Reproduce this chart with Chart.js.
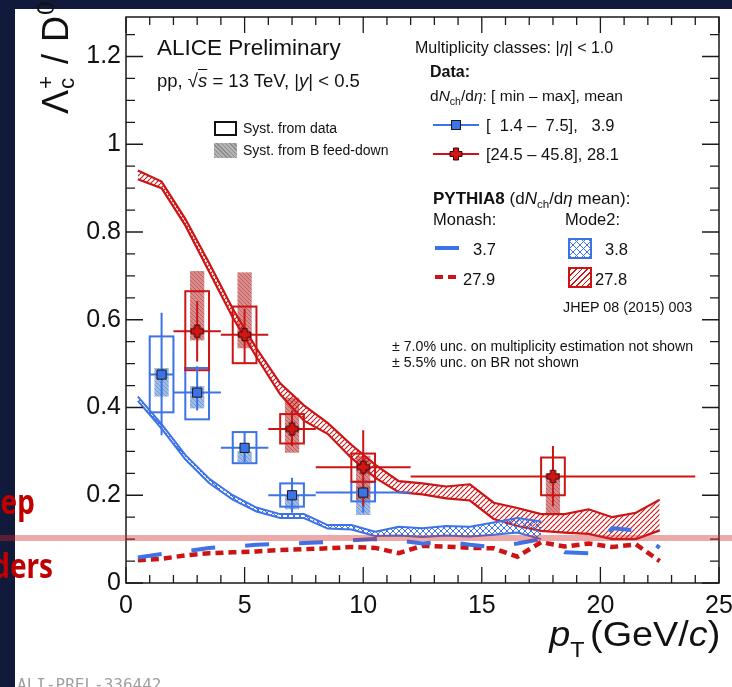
<!DOCTYPE html>
<html lang="en">
<head>
<meta charset="UTF-8">
<title>Lambda_c / D0 vs pT in multiplicity classes</title>
<script src="https://cdn.jsdelivr.net/npm/chart.js"></script>
<style>
    body {
        margin: 0;
        width: 732px;
        height: 687px;
        position: relative;
        overflow: hidden;
        background: #111a3a;
        font-family: "Liberation Sans", Arial, sans-serif;
    }
    .panel {
        position: absolute;
        left: 15px; top: 9px;
        width: 717px; height: 678px;
        background: #fff;
    }
    .panel canvas { display: block; }
    .t {
        position: absolute;
        white-space: pre;
        line-height: 1;
        color: #111;
    }
    .t sub, .t sup { font-size: 0.68em; line-height: 0; }
    .t sub { vertical-align: -0.35em; }
    .t sup { vertical-align: 0.55em; }
    .sw { position: absolute; box-sizing: border-box; }
    .ss { display: inline-block; font-size: 0.62em; line-height: 0.95; vertical-align: -0.3em; }
    .ss span { display: block; }
    .slide { position: absolute; white-space: pre; line-height: 1; font-size: 34px; font-weight: bold;
             color: #c00000; font-family: "Noto Sans", sans-serif; transform: scaleX(0.82); transform-origin: 100% 0; }
</style>
</head>
<body>

<div class="panel"><canvas id="chart"></canvas></div>

<!-- axis titles -->
<div class="t" style="left:35px; top:114px; font-size:36px; letter-spacing:1px; transform:rotate(-90deg); transform-origin:0 0;">Λ<span class="ss"><span>+</span><span>c</span></span> / D<sup>0</sup></div>
<div class="t" style="right:12px; top:616px; font-size:35px; transform:scaleX(1.08); transform-origin:100% 0;"><i>p</i><sub style="vertical-align:-0.5em; font-size:0.62em">T</sub><span style="margin-left:5px">(GeV/<i>c</i>)</span></div>

<!-- left block -->
<div class="t" style="left:157px; top:37px; font-size:22.5px;">ALICE Preliminary</div>
<div class="t" style="left:157px; top:72px; font-size:18.5px;">pp, √<i style="text-decoration:overline">s</i> = 13 TeV, |<i>y</i>| &lt; 0.5</div>
<div class="sw" style="left:214px; top:121px; width:23px; height:15px; border:2px solid #111;"></div>
<div class="t" style="left:243px; top:121px; font-size:14px;">Syst. from data</div>
<div class="sw" style="left:214px; top:143px; width:23px; height:15px; background:repeating-linear-gradient(45deg, #8a8a8a 0 1px, #b4b4b4 1px 3px);"></div>
<div class="t" style="left:243px; top:143px; font-size:14px;">Syst. from B feed-down</div>

<!-- right legend -->
<div class="t" style="left:415px; top:39.5px; font-size:16px;">Multiplicity classes: |<i>η</i>| &lt; 1.0</div>
<div class="t" style="left:430px; top:63.5px; font-size:16px; font-weight:bold;">Data:</div>
<div class="t" style="left:430px; top:88px; font-size:15.5px;">d<i>N</i><sub>ch</sub>/d<i>η</i>: [ min – max], mean</div>
<div class="sw" style="left:433px; top:124px; width:46px; height:2px; background:#3d73e6;"></div>
<div class="sw" style="left:451px; top:120px; width:10px; height:10px; background:#3d73e6; border:1px solid #1a1a1a;"></div>
<div class="t" style="left:486px; top:117px; font-size:16.5px;">[  1.4 –  7.5],   3.9</div>
<div class="sw" style="left:433px; top:153px; width:46px; height:2px; background:#cc1414;"></div>
<svg class="sw" style="left:449px; top:147px;" width="14" height="14" viewBox="-7 -7 14 14"><polygon points="-2.5,-6 2.5,-6 2.5,-2.5 6,-2.5 6,2.5 2.5,2.5 2.5,6 -2.5,6 -2.5,2.5 -6,2.5 -6,-2.5 -2.5,-2.5" fill="#d01515" stroke="#3a0000" stroke-width="1"/></svg>
<div class="t" style="left:486px; top:146px; font-size:16.5px;">[24.5 – 45.8], 28.1</div>

<div class="t" style="left:433px; top:189.5px; font-size:17px;"><b>PYTHIA8</b> (d<i>N</i><sub>ch</sub>/d<i>η</i> mean):</div>
<div class="t" style="left:433px; top:211px; font-size:16.5px;">Monash:</div>
<div class="t" style="left:565px; top:211px; font-size:16.5px;">Mode2:</div>
<div class="sw" style="left:435px; top:246px; width:24px; height:4px; background:#3d73e6;"></div>
<div class="t" style="left:473px; top:241px; font-size:16.5px;">3.7</div>
<div class="sw" style="left:435px; top:275px; width:24px; height:4px; background:repeating-linear-gradient(90deg, #cc1414 0 8px, transparent 8px 13px);"></div>
<div class="t" style="left:463px; top:271px; font-size:16.5px;">27.9</div>
<div class="sw" style="left:568px; top:238px; width:24px; height:21px; border:2px solid #3d73e6; background:repeating-linear-gradient(45deg, #3d73e6 0 1px, transparent 1px 5px), repeating-linear-gradient(135deg, #3d73e6 0 1px, transparent 1px 5px);"></div>
<div class="t" style="left:605px; top:241px; font-size:16.5px;">3.8</div>
<div class="sw" style="left:568px; top:267px; width:24px; height:21px; border:2px solid #cc1414; background:repeating-linear-gradient(135deg, #cc1414 0 1px, transparent 1px 4px);"></div>
<div class="t" style="left:595px; top:271px; font-size:16.5px;">27.8</div>
<div class="t" style="left:563px; top:300px; font-size:14.3px;">JHEP 08 (2015) 003</div>

<div class="t" style="left:392px; top:339px; font-size:14.2px;">± 7.0% unc. on multiplicity estimation not shown</div>
<div class="t" style="left:392px; top:355px; font-size:14.2px;">± 5.5% unc. on BR not shown</div>

<div class="t" style="left:17px; top:677px; font-size:16px; color:#a0a0a0; font-family:'DejaVu Sans Mono', monospace;">ALI-PREL-336442</div>

<!-- slide overlay pieces -->
<div style="position:absolute; left:0; top:535px; width:732px; height:6px; background:rgba(204,40,40,0.4);"></div>
<div class="slide" style="right:697px; top:484px;">ep</div>
<div class="slide" style="right:679px; top:548px;">ders</div>

<script>
    // model bin centres (GeV/c)
    const modelPt = [0.5, 1.5, 2.5, 3.5, 4.5, 5.5, 6.5, 7.5, 8.5, 9.5, 10.5, 11.5,
                     12.5, 13.5, 14.5, 15.5, 16.5, 17.5, 18.5, 19.5, 20.5, 21.5, 22.5];

    // PYTHIA8 Mode2, high multiplicity (27.8) band
    const redMode2Hi = [0.94, 0.915, 0.83, 0.73, 0.625, 0.535, 0.455, 0.405, 0.365, 0.315, 0.27, 0.232,
                        0.227, 0.22, 0.225, 0.183, 0.171, 0.157, 0.157, 0.168, 0.15, 0.16, 0.19];
    const redMode2Lo = [0.92, 0.9, 0.815, 0.71, 0.605, 0.515, 0.43, 0.37, 0.34, 0.285, 0.24, 0.207,
                        0.202, 0.193, 0.188, 0.146, 0.13, 0.119, 0.115, 0.112, 0.1, 0.1, 0.12];

    // PYTHIA8 Mode2, low multiplicity (3.8) band
    const blueMode2Hi = [0.425, 0.362, 0.292, 0.238, 0.2, 0.172, 0.157, 0.157, 0.132, 0.132, 0.117, 0.128,
                         0.125, 0.13, 0.128, 0.138, 0.148, 0.14];
    const blueMode2Lo = [0.415, 0.352, 0.282, 0.228, 0.19, 0.163, 0.148, 0.148, 0.124, 0.122, 0.107, 0.108,
                         0.105, 0.108, 0.106, 0.11, 0.115, 0.1];

    // PYTHIA8 Monash
    const blueMonash = [0.058, 0.066, 0.072, 0.08, 0.083, 0.087, 0.089, 0.091, 0.093, 0.097, 0.1, 0.097,
                        0.09, 0.095, 0.087, 0.082, 0.09, 0.1, 0.07, 0.068, 0.125, 0.12, 0.08];
    const redMonash = [0.052, 0.055, 0.063, 0.068, 0.07, 0.072, 0.075, 0.077, 0.079, 0.082, 0.08, 0.068,
                       0.085, 0.083, 0.08, 0.079, 0.06, 0.093, 0.083, 0.09, 0.082, 0.088, 0.05];

    // data, dNch/deta [1.4-7.5]
    const lowPt     = [1.5, 3, 5, 7, 10];
    const lowBinLo  = [1, 2, 4, 6, 8];
    const lowBinHi  = [2, 4, 6, 8, 12];
    const lowVal    = [0.475, 0.434, 0.308, 0.2, 0.206];
    const lowStatLo = [0.337, 0.393, 0.276, 0.16, 0.16];
    const lowStatHi = [0.616, 0.494, 0.342, 0.24, 0.236];
    const lowSystLo = [0.389, 0.373, 0.273, 0.174, 0.186];
    const lowSystHi = [0.562, 0.49, 0.344, 0.227, 0.23];
    const lowFdLo   = [0.425, 0.398, 0.275, 0.168, 0.155];
    const lowFdHi   = [0.49, 0.449, 0.3, 0.2, 0.22];

    // data, dNch/deta [24.5-45.8]
    const highPt     = [3, 5, 7, 10, 18];
    const highBinLo  = [2, 4, 6, 8, 12];
    const highBinHi  = [4, 6, 8, 12, 24];
    const highVal    = [0.574, 0.566, 0.351, 0.264, 0.243];
    const highStatLo = [0.505, 0.501, 0.312, 0.175, 0.175];
    const highStatHi = [0.643, 0.625, 0.393, 0.348, 0.312];
    const highSystLo = [0.485, 0.501, 0.318, 0.231, 0.2];
    const highSystHi = [0.665, 0.63, 0.385, 0.295, 0.286];
    const highFdLo   = [0.553, 0.535, 0.297, 0.19, 0.157];
    const highFdHi   = [0.711, 0.708, 0.422, 0.29, 0.25];

    const BLUE = '#3d73e6';
    const RED = '#cc1414';
    const FONT = '"Liberation Sans", Arial, sans-serif';

    function makePattern(size, draw) {
        const c = document.createElement('canvas');
        c.width = c.height = size;
        const g = c.getContext('2d');
        draw(g, size);
        return g.createPattern(c, 'repeat');
    }
    function diag(g, s, up) {
        g.beginPath();
        for (let k = -1; k <= 1; k++) {
            if (up) { g.moveTo(k * s, s); g.lineTo(k * s + s, 0); }
            else { g.moveTo(k * s, 0); g.lineTo(k * s + s, s); }
        }
        g.stroke();
    }
    const redHatch = makePattern(5, (g, s) => { g.strokeStyle = RED; g.lineWidth = 1.1; diag(g, s, true); });
    const blueCross = makePattern(6, (g, s) => { g.strokeStyle = BLUE; g.lineWidth = 1; diag(g, s, true); diag(g, s, false); });
    const redFd = makePattern(4, (g, s) => {
        g.fillStyle = 'rgba(195,70,70,0.62)'; g.fillRect(0, 0, s, s);
        g.strokeStyle = 'rgba(150,30,30,0.5)'; g.lineWidth = 0.8; diag(g, s, false);
    });
    const blueFd = makePattern(4, (g, s) => {
        g.fillStyle = 'rgba(80,135,210,0.55)'; g.fillRect(0, 0, s, s);
        g.strokeStyle = 'rgba(40,90,170,0.45)'; g.lineWidth = 0.8; diag(g, s, false);
    });

    function plusMarker() {
        const c = document.createElement('canvas');
        c.width = c.height = 15;
        const g = c.getContext('2d');
        const a = 2.6, b = 6.2;
        g.translate(7.5, 7.5);
        g.beginPath();
        g.moveTo(-a, -b); g.lineTo(a, -b); g.lineTo(a, -a); g.lineTo(b, -a); g.lineTo(b, a); g.lineTo(a, a);
        g.lineTo(a, b); g.lineTo(-a, b); g.lineTo(-a, a); g.lineTo(-b, a); g.lineTo(-b, -a); g.lineTo(-a, -a);
        g.closePath();
        g.fillStyle = '#d01515'; g.fill();
        g.strokeStyle = '#3a0000'; g.lineWidth = 1; g.stroke();
        return c;
    }

    const pts = (xs, ys) => ys.map((y, i) => ({ x: xs[i], y: y }));

    // syst boxes: feed-down shaded, data-driven as open boxes (under everything)
    const boxPlugin = {
        id: 'boxes',
        beforeDatasetsDraw(chart) {
            const { ctx, scales: { x, y } } = chart;
            const draw = (xs, fLo, fHi, sLo, sHi, fill, stroke) => {
                xs.forEach((v, i) => {
                    const l = x.getPixelForValue(v - 0.3), r = x.getPixelForValue(v + 0.3);
                    const t = y.getPixelForValue(fHi[i]), b = y.getPixelForValue(fLo[i]);
                    ctx.fillStyle = fill;
                    ctx.fillRect(l, t, r - l, b - t);
                });
                ctx.strokeStyle = stroke;
                ctx.lineWidth = 2;
                xs.forEach((v, i) => {
                    const l = x.getPixelForValue(v - 0.5), r = x.getPixelForValue(v + 0.5);
                    const t = y.getPixelForValue(sHi[i]), b = y.getPixelForValue(sLo[i]);
                    ctx.strokeRect(l, t, r - l, b - t);
                });
            };
            ctx.save();
            draw(lowPt, lowFdLo, lowFdHi, lowSystLo, lowSystHi, blueFd, BLUE);
            draw(highPt, highFdLo, highFdHi, highSystLo, highSystHi, redFd, RED);
            ctx.restore();
        }
    };

    // stat error bars, drawn just before the markers
    const errPlugin = {
        id: 'errs',
        beforeDatasetDraw(chart, args) {
            if (args.index !== 1) return;
            const { ctx, scales: { x, y } } = chart;
            const draw = (xs, vals, bLo, bHi, eLo, eHi, color) => {
                ctx.strokeStyle = color;
                ctx.lineWidth = 2;
                ctx.beginPath();
                xs.forEach((v, i) => {
                    const px = x.getPixelForValue(v), py = y.getPixelForValue(vals[i]);
                    ctx.moveTo(px, y.getPixelForValue(eLo[i]));
                    ctx.lineTo(px, y.getPixelForValue(eHi[i]));
                    ctx.moveTo(x.getPixelForValue(bLo[i]), py);
                    ctx.lineTo(x.getPixelForValue(bHi[i]), py);
                });
                ctx.stroke();
            };
            ctx.save();
            draw(lowPt, lowVal, lowBinLo, lowBinHi, lowStatLo, lowStatHi, BLUE);
            draw(highPt, highVal, highBinLo, highBinHi, highStatLo, highStatHi, RED);
            ctx.restore();
        }
    };

    // ROOT-like frame with inward ticks on all four sides
    const framePlugin = {
        id: 'frame',
        afterDraw(chart) {
            const { ctx, chartArea: a, scales: { x, y } } = chart;
            ctx.save();
            ctx.strokeStyle = '#1a1a1a';
            ctx.lineWidth = 1.5;
            ctx.strokeRect(a.left, a.top, a.right - a.left, a.bottom - a.top);
            ctx.lineWidth = 1.3;
            ctx.beginPath();
            for (let v = 0; v <= 25; v++) {
                const px = x.getPixelForValue(v);
                const len = v % 5 === 0 ? 16 : 8;
                ctx.moveTo(px, a.bottom); ctx.lineTo(px, a.bottom - len);
                ctx.moveTo(px, a.top); ctx.lineTo(px, a.top + len);
            }
            for (let k = 0; k <= 25; k++) {
                const py = y.getPixelForValue(k * 0.05);
                const len = k % 4 === 0 ? 17 : 9;
                ctx.moveTo(a.left, py); ctx.lineTo(a.left + len, py);
                ctx.moveTo(a.right, py); ctx.lineTo(a.right - len, py);
            }
            ctx.stroke();
            ctx.restore();
        }
    };

    const ctx = document.getElementById('chart').getContext('2d');
    const myChart = new Chart(ctx, {
        type: 'line',
        data: {
            datasets: [
                {   // 0: low multiplicity data
                    type: 'scatter', data: pts(lowPt, lowVal), order: 0,
                    pointStyle: 'rect', pointRadius: 6.5, backgroundColor: BLUE,
                    borderColor: '#1a1a1a', borderWidth: 1, showLine: false
                },
                {   // 1: high multiplicity data
                    type: 'scatter', data: pts(highPt, highVal), order: 1,
                    pointStyle: plusMarker(), pointRadius: 7, showLine: false
                },
                {   // 2: Monash 3.7
                    data: pts(modelPt, blueMonash), order: 2,
                    borderColor: BLUE, borderWidth: 4, borderDash: [24, 30], pointRadius: 0, fill: false, tension: 0
                },
                {   // 3: Monash 27.9
                    data: pts(modelPt, redMonash), order: 3,
                    borderColor: RED, borderWidth: 4.5, borderDash: [8, 5], pointRadius: 0, fill: false, tension: 0
                },
                {   // 4-5: Mode2 3.8 band
                    data: pts(modelPt, blueMode2Lo), order: 4,
                    borderColor: BLUE, borderWidth: 2, pointRadius: 0, fill: false
                },
                {
                    data: pts(modelPt, blueMode2Hi), order: 5,
                    borderColor: BLUE, borderWidth: 2, pointRadius: 0, fill: '-1', backgroundColor: blueCross
                },
                {   // 6-7: Mode2 27.8 band
                    data: pts(modelPt, redMode2Lo), order: 6,
                    borderColor: RED, borderWidth: 2.2, pointRadius: 0, fill: false
                },
                {
                    data: pts(modelPt, redMode2Hi), order: 7,
                    borderColor: RED, borderWidth: 2.2, pointRadius: 0, fill: '-1', backgroundColor: redHatch
                }
            ]
        },
        options: {
            responsive: true,
            maintainAspectRatio: false,
            animation: false,
            devicePixelRatio: 1,
            layout: { padding: { top: 1, right: 13, left: 0, bottom: 0 } },
            plugins: { legend: { display: false }, tooltip: { enabled: false } },
            scales: {
                x: {
                    type: 'linear', min: 0, max: 25,
                    grid: { display: false, drawTicks: false },
                    border: { display: false },
                    ticks: { stepSize: 5, includeBounds: false, maxRotation: 0, padding: 8,
                             color: '#111', font: { family: FONT, size: 25 } },
                    afterFit(s) { s.height = 104; s.paddingLeft = 0; s.paddingRight = 0; }
                },
                y: {
                    type: 'linear', min: 0, max: 1.29,
                    grid: { display: false, drawTicks: false },
                    border: { display: false },
                    ticks: { stepSize: 0.2, includeBounds: false, padding: 5,
                             color: '#111', font: { family: FONT, size: 25 },
                             callback: v => String(Math.round(v * 10) / 10) },
                    afterFit(s) { s.width = 111; s.paddingTop = 0; s.paddingBottom = 0; }
                }
            }
        },
        plugins: [boxPlugin, errPlugin, framePlugin]
    });
</script>

</body>
</html>
